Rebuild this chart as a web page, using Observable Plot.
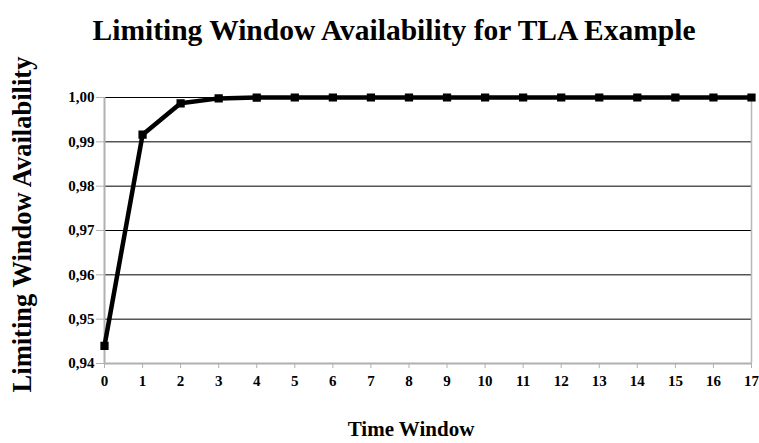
<!DOCTYPE html>
<html><head><meta charset="utf-8">
<script src="https://cdn.jsdelivr.net/npm/d3@7"></script>
<script src="https://cdn.jsdelivr.net/npm/@observablehq/plot@0.6"></script>
<style>
body{margin:0;background:#fff;} svg{display:block;}
#chart g[aria-label="x-axis tick label"], #chart g[aria-label="y-axis tick label"] { font-size: 15px !important; font-weight: bold !important; font-family: 'Liberation Serif', 'Times New Roman', serif !important; }
#chart text { font-family: 'Liberation Serif', 'Times New Roman', serif !important; }
</style>
</head><body>
<div id="chart"></div>
<script>
const timeWindow = [0,1,2,3,4,5,6,7,8,9,10,11,12,13,14,15,16,17];
const availability = [0.944,0.9916,0.9987,0.9998,0.99998,1,1,1,1,1,1,1,1,1,1,1,1,1];
const yTicks = [0.94,0.95,0.96,0.97,0.98,0.99,1.00];
const title = "Limiting Window Availability for TLA Example";
const xTitle = "Time Window";
const yTitle = "Limiting Window Availability";

const data = timeWindow.map((t,i)=>({t, a: availability[i]}));
const fmt = v => d3.format(".2f")(v).replace(".", ",");
const font = "'Liberation Serif', 'Times New Roman', serif";

const chart = Plot.plot({
  width: 759, height: 443,
  marginLeft: 104, marginRight: 8, marginTop: 97, marginBottom: 80,
  style: {fontFamily: font, fontWeight: "bold", fontSize: "15px", background: "#fff"},
  x: {domain: [0,17], label: null},
  y: {domain: [0.94,1.0], label: null},
  marks: [
    Plot.gridY(yTicks.slice(1), {stroke: "#000", strokeOpacity: 1, strokeWidth: 1}),
    Plot.ruleX([17], {stroke: "#b8b8b8", strokeWidth: 1.5}),
    Plot.ruleX([0], {stroke: "#b0b0b0", strokeWidth: 2}),
    Plot.ruleY([0.94], {stroke: "#b0b0b0", strokeWidth: 2}),
    Plot.axisX({ticks: timeWindow, tickFormat: d=>String(d), stroke: "#b0b0b0", tickSize: 5, tickPadding: 7, fill: "#000", label: null, fontFamily: font}),
    Plot.axisY({ticks: yTicks, tickFormat: fmt, stroke: "#b0b0b0", tickSize: 8, tickPadding: 2, fill: "#000", label: null, fontFamily: font}),
    Plot.line(data, {x: "t", y: "a", stroke: "#000", strokeWidth: 4.5, strokeLinejoin: "miter"}),
    Plot.dot(data, {x: "t", y: "a", symbol: "square", r: 3.8, fill: "#000", stroke: "#000"}),
    Plot.text([title], {frameAnchor: "top", lineAnchor: "middle", dx: -34, dy: -67, fontSize: 29.5, fontWeight: "bold", fill: "#000"}),
    Plot.text([xTitle], {frameAnchor: "bottom", lineAnchor: "middle", textAnchor: "middle", dx: -17, dy: 66, fontSize: 21, fontWeight: "bold", fill: "#000"}),
    Plot.text([yTitle], {frameAnchor: "left", lineAnchor: "middle", textAnchor: "middle", dx: -82, dy: -6, rotate: -90, fontSize: 26.5, fontWeight: "bold", fill: "#000"})
  ]
});
document.getElementById("chart").appendChild(chart);
</script>
</body></html>
